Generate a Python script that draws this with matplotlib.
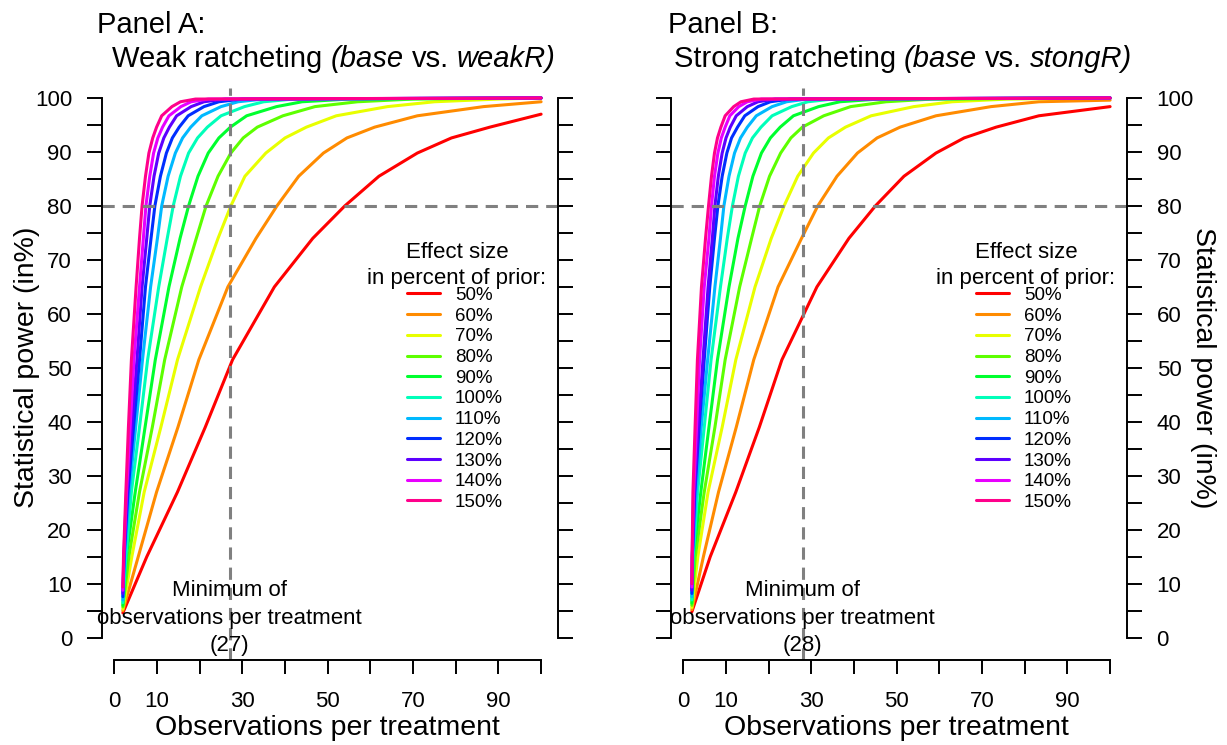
import matplotlib
matplotlib.use("Agg")
import matplotlib.pyplot as plt
from matplotlib.ticker import MultipleLocator

plt.rcParams['font.family'] = ['Liberation Sans', 'DejaVu Sans']

# power levels (in %) at which the crossing points of each curve were read
levels = [15, 27, 39, 51.5, 65, 74, 80, 85.5, 89.8, 92.6, 94.6, 96.7, 98.4, 99.3, 99.8]

effect_labels = ["50%", "60%", "70%", "80%", "90%", "100%",
                 "110%", "120%", "130%", "140%", "150%"]
colors = ["#FF0000", "#FF8B00", "#E8FF00", "#5DFF00", "#00FF2E", "#00FFB9",
          "#00B9FF", "#002EFF", "#5D00FF", "#E800FF", "#FF008B"]

n_first = 2
n_last = 100

# Panel A: power at n = 2, observations where each level is reached, power at n = 100
a_start = [4.6, 5.0, 5.3, 5.7, 6.0, 6.5, 7.0, 7.6, 8.2, 8.8, 9.4]
a_end = [97.0, 99.3, 100, 100, 100, 100, 100, 100, 100, 100, 100]
a_red = [7.6, 14.8, 21.3, 27.7, 37.5, 46.5, 54, 62, 71, 79, 88]
a_orange = [5.6, 9.9, 14.9, 19.8, 26.6, 33.2, 38.1, 43.2, 49, 54.5, 61, 71, 86.5]
a_yellow = [4.1, 7.0, 10.9, 14.8, 20.2, 24.3, 27.3, 30.6, 35.5, 40, 45, 52, 64, 75, 90]
a_yellowgreen = [3.4, 5.9, 8.9, 11.8, 15.8, 19.2, 21.5, 24.3, 27.3, 30.2, 33.5, 39.5, 47, 57, 70]
a_green = [2.8, 4.9, 7.2, 9.6, 12.8, 15.4, 17.4, 19.6, 22, 24.5, 27.2, 31, 38, 44, 55]
a_cyan = [2.7, 4.0, 5.9, 7.8, 10.4, 12.4, 13.8, 15.5, 17.4, 19.5, 21.8, 25, 30.5, 35, 42]
a_lightblue = [2.4, 3.5, 5.0, 6.6, 8.5, 10.1, 11.1, 12.6, 14.3, 16, 17.9, 20.5, 25, 29, 35]
a_blue = [2.3, 3.2, 4.5, 5.9, 7.3, 8.6, 9.5, 10.8, 12.2, 13.6, 15.2, 17.3, 21, 24.5, 30]
a_purple = [2.25, 3.0, 4.1, 5.3, 6.5, 7.6, 8.3, 9.3, 10.4, 11.6, 12.9, 14.6, 18, 21, 26]
a_magenta = [2.2, 2.85, 3.7, 4.6, 5.9, 6.8, 7.4, 8.3, 9.2, 10.2, 11.3, 12.8, 15.6, 18, 22]
a_pink = [2.15, 2.7, 3.3, 4.0, 5.1, 5.9, 6.5, 7.3, 8.1, 9.0, 9.9, 11.1, 13.5, 15.5, 19]

# Panel B
b_start = [4.8, 5.2, 5.6, 6.0, 6.4, 7.0, 7.6, 8.2, 8.8, 9.4, 10.0]
b_end = [98.4, 99.6, 100, 100, 100, 100, 100, 100, 100, 100, 100]
b_red = [6.3, 12.3, 17.8, 23.1, 31.3, 38.8, 45, 51.7, 59.2, 65.8, 73.3, 83.3]
b_orange = [4.7, 8.25, 12.4, 16.5, 22.2, 27.7, 31.5, 36, 40.8, 45.4, 50.8, 59.2, 72.1, 83.3]
b_yellow = [3.4, 5.8, 9.1, 12.3, 16.8, 20.6, 23.6, 26.8, 30.5, 34, 38, 44, 54, 63, 76]
b_yellowgreen = [2.8, 4.9, 7.4, 9.8, 13.2, 16, 17.9, 20.2, 22.8, 25.2, 27.9, 32.9, 39.2, 47.5, 58.3]
b_green = [2.35, 4.1, 6.0, 8.0, 10.7, 12.8, 14.5, 16.3, 18.3, 20.4, 22.7, 25.8, 31.7, 36.7, 45.8]
b_cyan = [2.3, 3.35, 4.9, 6.5, 8.7, 10.3, 11.5, 12.9, 14.5, 16.2, 18.2, 20.8, 25.4, 29.2, 35]
b_lightblue = [2.2, 3.0, 4.2, 5.7, 7.4, 8.7, 9.5, 10.7, 12, 13.4, 15, 17.1, 20.8, 24.2, 29]
b_blue = [2.1, 2.7, 3.7, 4.9, 6.2, 7.3, 8.1, 9.1, 10.2, 11.3, 12.7, 14.4, 17.5, 20.4, 25]
b_purple = [2.1, 2.6, 3.5, 4.6, 5.8, 6.8, 7.4, 8.2, 9.1, 10, 11, 12.4, 15, 17.5, 21.5]
b_magenta = [2.05, 2.4, 3.1, 3.8, 4.9, 6.0, 6.6, 7.3, 8.1, 8.9, 9.8, 10.9, 13, 15, 18.3]
b_pink = [2.05, 2.25, 2.75, 3.3, 4.25, 5.2, 5.9, 6.6, 7.3, 8.0, 8.8, 9.8, 11.8, 13.5, 16.5]

a_curves = [a_red, a_orange, a_yellow, a_yellowgreen, a_green, a_cyan,
            a_lightblue, a_blue, a_purple, a_magenta, a_pink]
b_curves = [b_red, b_orange, b_yellow, b_yellowgreen, b_green, b_cyan,
            b_lightblue, b_blue, b_purple, b_magenta, b_pink]

min_obs_a = 27
min_obs_b = 28
target_power = 80

x_ticks = list(range(0, 101, 10))
x_tick_labels = ["0", "10", "", "30", "", "50", "", "70", "", "90", ""]
y_ticks = list(range(0, 101, 10))

title_a = [("Weak ratcheting ", "normal"), ("(base", "italic"), (" vs. ", "normal"), ("weakR)", "italic")]
title_b = [("Strong ratcheting ", "normal"), ("(base", "italic"), (" vs. ", "normal"), ("stongR)", "italic")]

W, H = 1227, 745
fig = plt.figure(figsize=(W / 100, H / 100), dpi=100)


def px_box(left, top, right, bottom):
    return [left / W, 1 - bottom / H, (right - left) / W, (bottom - top) / H]


def rich_title(x_px, y_px, parts, size):
    # pieces of mixed upright / italic text, centred as one line
    r = fig.canvas.get_renderer()
    texts, widths = [], []
    for s, style in parts:
        t = fig.text(0, 1 - y_px / H, s.strip(), fontsize=size, style=style, va='baseline')
        texts.append(t)
        widths.append(t.get_window_extent(r).width)
    sp = fig.text(0, 0, "a a", fontsize=size)
    na = fig.text(0, 0, "aa", fontsize=size)
    space_w = sp.get_window_extent(r).width - na.get_window_extent(r).width
    sp.remove()
    na.remove()
    gaps = []
    for s, _ in parts:
        gaps.append(((len(s) - len(s.lstrip())) * space_w, (len(s) - len(s.rstrip())) * space_w))
    total = sum(widths) + sum(g[0] + g[1] for g in gaps)
    x = x_px - total / 2
    for t, w, g in zip(texts, widths, gaps):
        x += g[0]
        t.set_x(x / W)
        x += w + g[1]


def draw_panel(ax, curves, starts, ends, min_obs, side):
    for xs, y0, y1, col, lab in zip(curves, starts, ends, colors, effect_labels):
        x = [n_first] + xs + [n_last]
        y = [y0] + levels[:len(xs)] + [y1]
        ax.plot(x, y, color=col, lw=2.2, label=lab, solid_capstyle='round',
                solid_joinstyle='round')

    ax.axhline(target_power, color="#808080", lw=2.2, ls=(0, (4, 2.6)))
    ax.axvline(min_obs, color="#808080", lw=2.2, ls=(0, (4, 2.6)))

    ax.set_xlim(-2.96, 103.96)
    ax.set_ylim(-4.13, 101.85)

    ax.spines['top'].set_visible(False)
    for s in ['left', 'right', 'bottom']:
        ax.spines[s].set_linewidth(1.4)
    ax.spines['left'].set_bounds(0, 100)
    ax.spines['right'].set_bounds(0, 100)
    ax.spines['bottom'].set_bounds(0, 100)

    ax.set_xticks(x_ticks)
    ax.set_xticklabels(x_tick_labels)
    ax.set_yticks(y_ticks)
    ax.yaxis.set_minor_locator(MultipleLocator(5))
    ax.tick_params(axis='x', direction='out', length=10, width=1.4, pad=12.5, labelsize=16)
    ax.tick_params(axis='y', which='both', direction='out', length=10.5, width=1.4,
                   pad=10.8, labelsize=16, left=True, right=True,
                   labelleft=(side == 'left'), labelright=(side == 'right'))

    ax.text(min_obs, 3.6, "Minimum of\nobservations per treatment\n(%d)" % min_obs,
            ha='center', va='center', fontsize=16, linespacing=1.4)

    ax.text(80.3, 69.0, "Effect size\nin percent of prior:", ha='center', va='center',
            fontsize=16, linespacing=1.3)
    ax.legend(loc='upper left', bbox_to_anchor=(68.6, 65.0), bbox_transform=ax.transData,
              frameon=False, fontsize=13.5, handlelength=1.75, handletextpad=0.8,
              labelspacing=0.19, borderpad=0, borderaxespad=0)


ax_a = fig.add_axes(px_box(101.7, 88, 558, 660))
ax_b = fig.add_axes(px_box(670.7, 88, 1127, 660))

draw_panel(ax_a, a_curves, a_start, a_end, min_obs_a, 'left')
draw_panel(ax_b, b_curves, b_start, b_end, min_obs_b, 'right')

# titles
fig.text(97 / W, 1 - 33 / H, "Panel A:", ha='left', va='baseline', fontsize=21)
rich_title(334, 67, title_a, 21)
fig.text(668 / W, 1 - 33 / H, "Panel B:", ha='left', va='baseline', fontsize=21)
rich_title(903, 67, title_b, 21)

# axis labels
fig.text(327.7 / W, 1 - 728 / H, "Observations per treatment", ha='center', va='center', fontsize=20.5)
fig.text(896.7 / W, 1 - 728 / H, "Observations per treatment", ha='center', va='center', fontsize=20.5)
fig.text(27.5 / W, 1 - 367.5 / H, "Statistical power (in%)", rotation=90,
         ha='center', va='center', fontsize=20.5)
fig.text(1203 / W, 1 - 367.5 / H, "Statistical power (in%)", rotation=-90,
         ha='center', va='center', fontsize=20.5)

fig.savefig("out.png", dpi=100)
